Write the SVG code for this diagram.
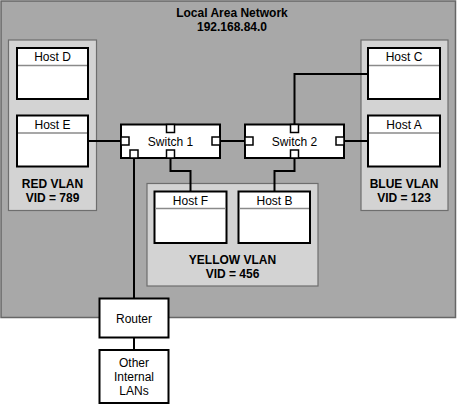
<svg xmlns="http://www.w3.org/2000/svg" width="458" height="404" viewBox="0 0 458 404">
<style>
.t{font-family:"Liberation Sans",Arial,sans-serif;font-size:12px;fill:#000;text-anchor:middle}
.b{font-weight:bold}
.host{fill:#fff;stroke:#000;stroke-width:2}
.div{stroke:#8a8a8a;stroke-width:1.5}
.vlan{fill:#d3d3d3;stroke:#6e6e6e;stroke-width:1.2}
.sw{fill:#fff;stroke:#000;stroke-width:2}
.port{fill:#fff;stroke:#000;stroke-width:1.5}
.box{fill:#fff;stroke:#000;stroke-width:2}
.c{fill:none;stroke:#000;stroke-width:2}
</style>
<rect width="458" height="404" fill="#fff"/>
<g id="lan">
<rect x="1" y="1" width="454.5" height="316.5" fill="#a8a8a8" stroke="#666" stroke-width="1.5"/>
<text class="t b" x="232" y="17">Local Area Network</text>
<text class="t b" x="232" y="30.5">192.168.84.0</text>
</g>
<g id="red-vlan">
<rect class="vlan" x="8.5" y="40" width="88" height="170.5"/>
<text class="t b" x="52.5" y="188">RED VLAN</text>
<text class="t b" x="52.5" y="202">VID = 789</text>
</g>
<g id="blue-vlan">
<rect class="vlan" x="361" y="40" width="87" height="170.5"/>
<text class="t b" x="404" y="188">BLUE VLAN</text>
<text class="t b" x="404" y="202">VID = 123</text>
</g>
<g id="yellow-vlan">
<rect class="vlan" x="147" y="183.5" width="171" height="102.5"/>
<text class="t b" x="232.5" y="264">YELLOW VLAN</text>
<text class="t b" x="232.5" y="278">VID = 456</text>
</g>
<g id="connectors">
<path class="c" d="M88 141H121"/>
<path class="c" d="M220 141H245"/>
<path class="c" d="M344 141H368"/>
<path class="c" d="M294.5 124.5V74H368"/>
<path class="c" d="M170.5 158V171H190.5V191.5"/>
<path class="c" d="M294.5 158V171H274.5V191.5"/>
<path class="c" d="M134 158V298.5"/>
<path class="c" d="M134 337.5V350"/>
</g>
<g id="host-d">
<rect class="host" x="17" y="48" width="71" height="51"/>
<line class="div" x1="18" y1="65.5" x2="87" y2="65.5"/>
<text class="t" x="52.5" y="61">Host D</text>
</g>
<g id="host-e">
<rect class="host" x="17" y="115.5" width="71" height="51"/>
<line class="div" x1="18" y1="133" x2="87" y2="133"/>
<text class="t" x="52.5" y="128.5">Host E</text>
</g>
<g id="host-c">
<rect class="host" x="368" y="48" width="72" height="51"/>
<line class="div" x1="369" y1="65.5" x2="439" y2="65.5"/>
<text class="t" x="404" y="61">Host C</text>
</g>
<g id="host-a">
<rect class="host" x="368" y="115.5" width="72" height="51"/>
<line class="div" x1="369" y1="133" x2="439" y2="133"/>
<text class="t" x="404" y="128.5">Host A</text>
</g>
<g id="host-f">
<rect class="host" x="154.5" y="191.5" width="72" height="51.5"/>
<line class="div" x1="155.5" y1="208.5" x2="225.5" y2="208.5"/>
<text class="t" x="190.5" y="204.5">Host F</text>
</g>
<g id="host-b">
<rect class="host" x="238.5" y="191.5" width="71.5" height="51.5"/>
<line class="div" x1="239.5" y1="208.5" x2="309" y2="208.5"/>
<text class="t" x="274.5" y="204.5">Host B</text>
</g>
<g id="switch-1">
<rect class="sw" x="121" y="124.5" width="99" height="33.5"/>
<rect class="port" x="166.5" y="124.5" width="8" height="8"/>
<rect class="port" x="121" y="137" width="8" height="8"/>
<rect class="port" x="212" y="137" width="8" height="8"/>
<rect class="port" x="130" y="150" width="8" height="8"/>
<rect class="port" x="166.5" y="150" width="8" height="8"/>
<text class="t" x="170.5" y="146">Switch 1</text>
</g>
<g id="switch-2">
<rect class="sw" x="245" y="124.5" width="99" height="33.5"/>
<rect class="port" x="290.5" y="124.5" width="8" height="8"/>
<rect class="port" x="245" y="137" width="8" height="8"/>
<rect class="port" x="336" y="137" width="8" height="8"/>
<rect class="port" x="290.5" y="150" width="8" height="8"/>
<text class="t" x="294.5" y="146">Switch 2</text>
</g>
<g id="router">
<rect class="box" x="99.5" y="298.5" width="69" height="39"/>
<text class="t" x="134" y="322.5">Router</text>
</g>
<g id="other-lans">
<rect class="box" x="99.5" y="350" width="69" height="53"/>
<text class="t" x="134" y="367">Other</text>
<text class="t" x="134" y="381">Internal</text>
<text class="t" x="134" y="395">LANs</text>
</g>
</svg>
